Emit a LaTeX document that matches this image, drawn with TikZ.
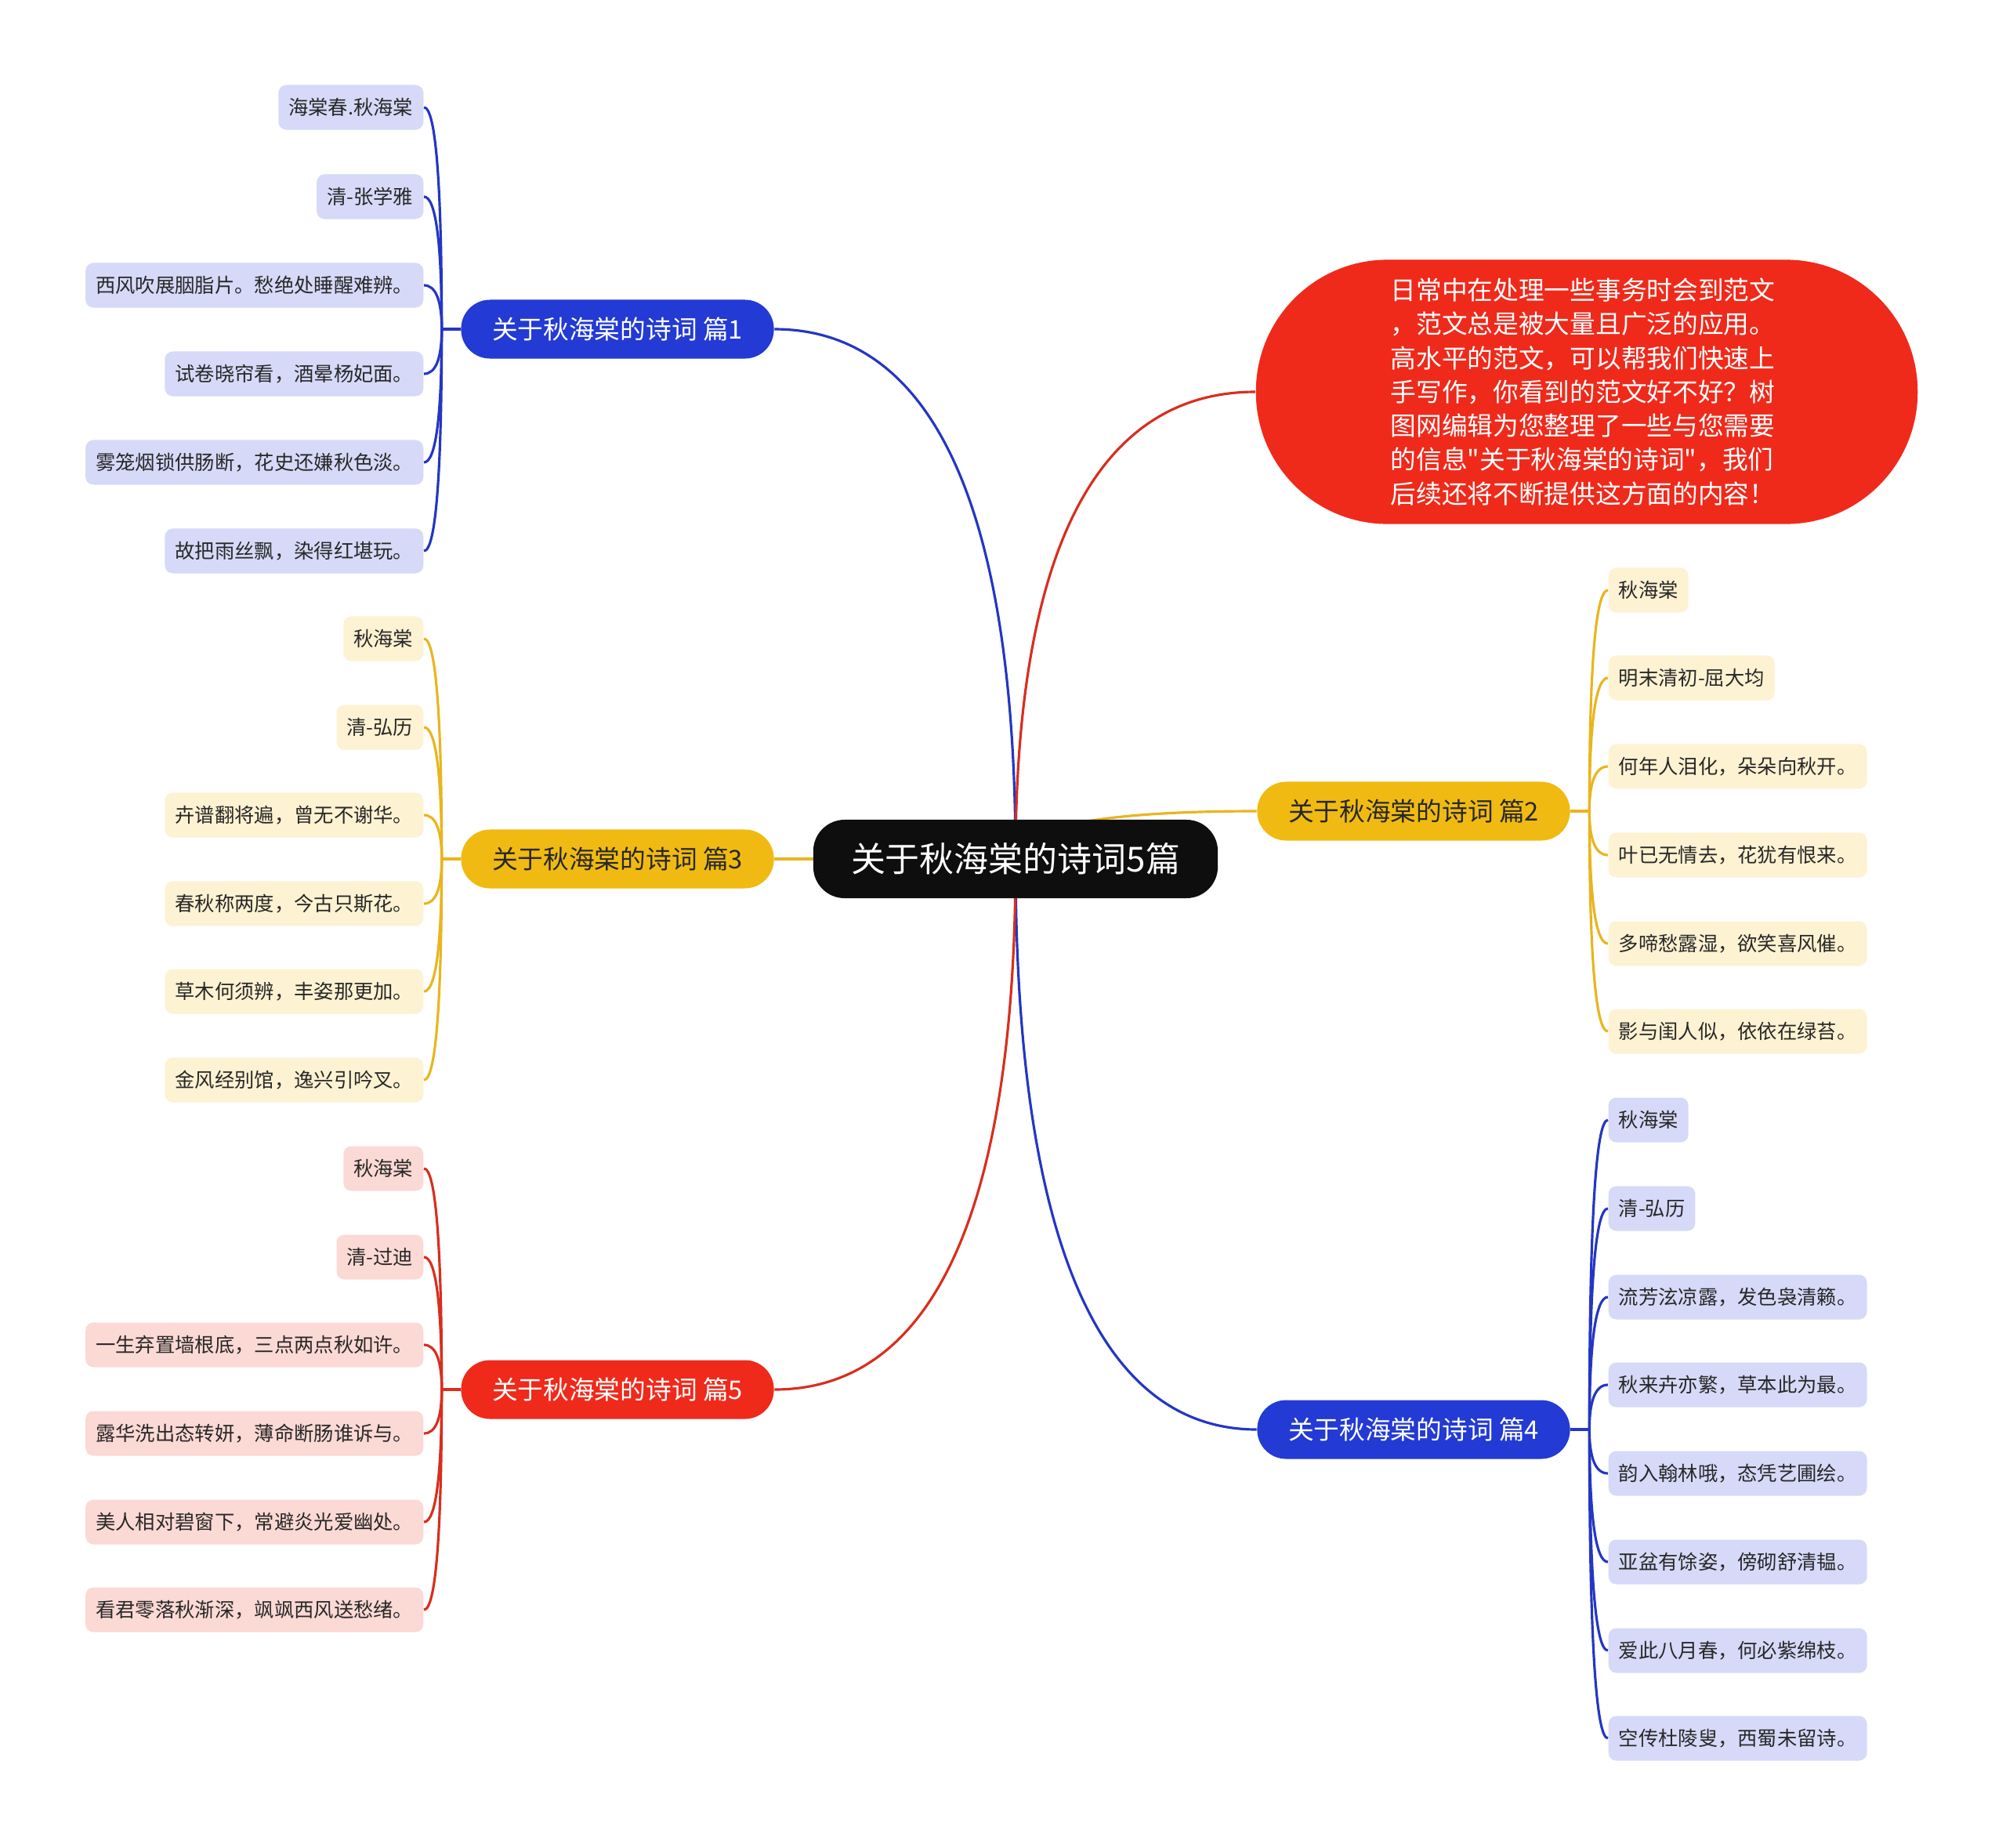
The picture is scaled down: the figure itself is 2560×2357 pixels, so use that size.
\documentclass[tikz,border=0pt]{standalone}
\usepackage{fontspec}
\newfontfamily\cjk{Noto Sans CJK SC}
\usetikzlibrary{calc,backgrounds}
\definecolor{pblue}{RGB}{35,58,212}
\definecolor{pyellow}{RGB}{240,186,18}
\definecolor{pred}{RGB}{239,42,27}
\definecolor{pblack}{RGB}{14,14,14}
\definecolor{lblue}{RGB}{214,218,248}
\definecolor{lyellow}{RGB}{253,242,210}
\definecolor{lred}{RGB}{251,217,213}
\definecolor{kblue}{RGB}{36,54,196}
\definecolor{kyellow}{RGB}{233,181,30}
\definecolor{kred}{RGB}{216,46,30}
\definecolor{ctext}{RGB}{40,40,40}
\newcommand\mmlink[3]{\draw[#1] (#2) .. controls ($(#2)!0.66!(#2|-#3)$) and ($(#3)!0.66!(#2|-#3)$) .. (#3);}
\begin{document}
\begin{tikzpicture}[x=0.01cm,y=-0.01cm,
  leaf/.style={rectangle,rounded corners=0.1cm,minimum height=0.57cm,inner xsep=0.13cm,inner ysep=0pt,text=ctext,font={\cjk\fontsize{7.2pt}{8.5pt}\selectfont}},
  leafb/.style={leaf,fill=lblue},
  leafy/.style={leaf,fill=lyellow},
  leafr/.style={leaf,fill=lred},
  pill/.style={rectangle,rounded corners=0.37cm,minimum width=3.99cm,minimum height=0.75cm,inner sep=0pt,font={\cjk\fontsize{9.3pt}{11pt}\selectfont}},
  lnb/.style={draw=kblue,line width=0.9pt},
  lny/.style={draw=kyellow,line width=0.9pt},
  lnr/.style={draw=kred,line width=0.9pt}]
\useasboundingbox (0,0) rectangle (2560,2357);
% central and description
\node[rectangle,rounded corners=0.4cm,fill=pblack,text=white,minimum width=5.16cm,minimum height=1.0cm,inner sep=0pt,font={\cjk\fontsize{12.5pt}{14pt}\selectfont}] (c) at (1296,1096) {关于秋海棠的诗词5篇};
\node[rectangle,rounded corners=1.68cm,fill=pred,text=white,minimum width=8.44cm,minimum height=3.37cm,inner sep=0pt,align=left,font={\cjk\fontsize{9.3pt}{12.3pt}\selectfont}] (d) at (2025,500) {日常中在处理一些事务时会到范文\\，范文总是被大量且广泛的应用。\\高水平的范文，可以帮我们快速上\\手写作，你看到的范文好不好？树\\图网编辑为您整理了一些与您需要\\的信息"关于秋海棠的诗词"，我们\\后续还将不断提供这方面的内容！\hspace*{0.1cm}};
% branches
\node[pill,fill=pblue,text=white] (b1) at (788,420) {关于秋海棠的诗词 篇1};
\node[pill,fill=pyellow,text=ctext] (b2) at (1804,1035) {关于秋海棠的诗词 篇2};
\node[pill,fill=pyellow,text=ctext] (b3) at (788,1096) {关于秋海棠的诗词 篇3};
\node[pill,fill=pblue,text=white] (b4) at (1804,1824) {关于秋海棠的诗词 篇4};
\node[pill,fill=pred,text=white] (b5) at (788,1773) {关于秋海棠的诗词 篇5};
\coordinate (j1) at ($(b1.west)+(-24,0)$);
\coordinate (j3) at ($(b3.west)+(-24,0)$);
\coordinate (j5) at ($(b5.west)+(-24,0)$);
\coordinate (j2) at ($(b2.east)+(24,0)$);
\coordinate (j4) at ($(b4.east)+(24,0)$);
% leaves branch 1
\foreach \t/\y [count=\i] in {海棠春.秋海棠/137,清-张学雅/251,西风吹展胭脂片。愁绝处睡醒难辨。/364,试卷晓帘看，酒晕杨妃面。/477,雾笼烟锁供肠断，花史还嫌秋色淡。/590,故把雨丝飘，染得红堪玩。/703}
  {\node[leafb,anchor=east] (p1\i) at (541,\y) {\t};}
% leaves branch 3
\foreach \t/\y [count=\i] in {秋海棠/815,清-弘历/928,卉谱翻将遍，曾无不谢华。/1040,春秋称两度，今古只斯花。/1153,草木何须辨，丰姿那更加。/1265,金风经别馆，逸兴引吟叉。/1378}
  {\node[leafy,anchor=east] (p3\i) at (541,\y) {\t};}
% leaves branch 5
\foreach \t/\y [count=\i] in {秋海棠/1491,清-过迪/1604,一生弃置墙根底，三点两点秋如许。/1716,露华洗出态转妍，薄命断肠谁诉与。/1829,美人相对碧窗下，常避炎光爱幽处。/1942,看君零落秋渐深，飒飒西风送愁绪。/2054}
  {\node[leafr,anchor=east] (p5\i) at (541,\y) {\t};}
% leaves branch 2
\foreach \t/\y [count=\i] in {秋海棠/753,明末清初-屈大均/865,何年人泪化，朵朵向秋开。/978,叶已无情去，花犹有恨来。/1091,多啼愁露湿，欲笑喜风催。/1204,影与闺人似，依依在绿苔。/1316}
  {\node[leafy,anchor=west] (p2\i) at (2052,\y) {\t};}
% leaves branch 4
\foreach \t/\y [count=\i] in {秋海棠/1429,清-弘历/1542,流芳泫凉露，发色袅清籁。/1655,秋来卉亦繁，草本此为最。/1767,韵入翰林哦，态凭艺圃绘。/1880,亚盆有馀姿，傍砌舒清韫。/1993,爱此八月春，何必紫绵枝。/2106,空传杜陵叟，西蜀未留诗。/2218}
  {\node[leafb,anchor=west] (p4\i) at (2052,\y) {\t};}
\begin{pgfonlayer}{background}
\fill[white] (0,0) rectangle (2560,2357);
\mmlink{lnb}{c.center}{b1.east}
\mmlink{lnr}{c.center}{d.west}
\mmlink{lny}{c.center}{b2.west}
\draw[lny] (c.center) -- (b3.east);
\mmlink{lnb}{c.center}{b4.west}
\mmlink{lnr}{c.center}{b5.east}
\draw[lnb] (b1.west) -- (j1);
\draw[lny] (b3.west) -- (j3);
\draw[lnr] (b5.west) -- (j5);
\draw[lny] (b2.east) -- (j2);
\draw[lnb] (b4.east) -- (j4);
\foreach \i in {1,...,6} {\mmlink{lnb}{j1}{p1\i.east}}
\foreach \i in {1,...,6} {\mmlink{lny}{j3}{p3\i.east}}
\foreach \i in {1,...,6} {\mmlink{lnr}{j5}{p5\i.east}}
\foreach \i in {1,...,6} {\mmlink{lny}{j2}{p2\i.west}}
\foreach \i in {1,...,8} {\mmlink{lnb}{j4}{p4\i.west}}
\end{pgfonlayer}
\end{tikzpicture}
\end{document}
